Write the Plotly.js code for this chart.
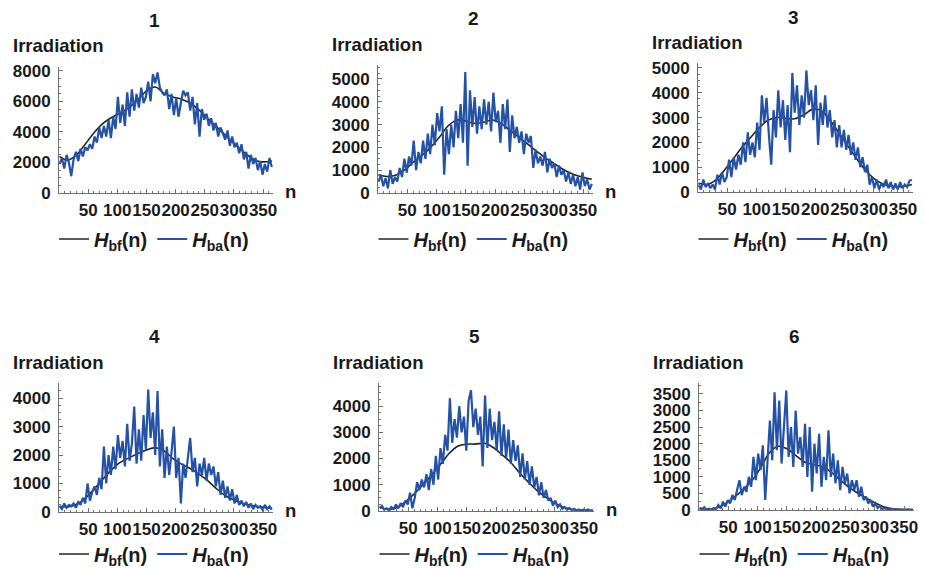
<!DOCTYPE html>
<html><head><meta charset="utf-8">
<script src="https://cdn.plot.ly/plotly-3.0.1.min.js"></script>
<style>html,body{margin:0;padding:0;background:#fff}</style>
</head><body><div id="chart" style="width:925px;height:569px"></div>
<script>
// ---------- data ----------
const titles = ["1","2","3","4","5","6"];
const xTicks = [50,100,150,200,250,300,350];
const yTicks1 = [0,2000,4000,6000,8000];
const yTicks2 = [0,1000,2000,3000,4000,5000];
const yTicks3 = [0,1000,2000,3000,4000,5000];
const yTicks4 = [0,1000,2000,3000,4000];
const yTicks5 = [0,1000,2000,3000,4000];
const yTicks6 = [0,500,1000,1500,2000,2500,3000,3500];

const days = [1,5,9,13,17,21,25,29,33,37,
  41,45,49,53,57,61,65,69,73,77,
  81,85,89,93,97,101,105,109,113,117,
  121,125,129,133,137,141,145,149,153,157,
  161,165,169,173,177,181,185,189,193,197,
  201,205,209,213,217,221,225,229,233,237,
  241,245,249,253,257,261,265,269,273,277,
  281,285,289,293,297,301,305,309,313,317,
  321,325,329,333,337,341,345,349,353,357,
  361,365];
const bfDays = [1,15,30,45,60,75,90,105,120,135,150,165,180,195,210,225,240,255,270,285,300,315,330,345,365];

const bf1 = [2400,2150,2500,3200,3950,4550,4950,5250,5600,6100,6700,6950,6550,6300,6150,5900,5450,4900,4350,3800,3250,2750,2300,2050,2100];
const bf2 = [800,720,780,1000,1350,1650,2000,2450,2950,3200,3150,3050,3100,3200,3050,2750,2450,2150,1850,1550,1300,1050,850,720,600];
const bf3 = [350,300,480,880,1330,1800,2200,2600,2900,3000,2970,2950,3100,3330,3280,2900,2400,1880,1370,900,550,330,230,210,300];
const bf4 = [200,180,270,480,800,1150,1480,1740,1900,2050,2180,2260,2150,1880,1680,1530,1330,1100,820,580,420,300,230,180,130];
const bf5 = [150,60,120,350,650,1000,1380,1780,2200,2480,2550,2550,2580,2420,2150,1850,1450,1100,780,520,300,140,60,30,20];
const bf6 = [60,20,60,190,380,610,880,1270,1720,1920,1850,1650,1450,1370,1310,1150,920,700,520,360,220,100,40,20,10];

const ba1 = [1900,2300,1600,2500,2000,1100,2200,2700,2100,2900,
  2400,3000,2800,3200,2900,3700,3300,4300,3600,4400,
  3700,4800,3600,5000,4200,6300,4600,5800,4400,6600,
  5000,6800,5400,6500,5600,6900,5900,6300,7300,6000,
  7800,7200,7900,6900,6600,6400,6800,5500,6500,5100,
  6200,5000,5900,6700,6400,6600,5400,6300,4500,5900,
  3700,5500,4800,5200,4400,4900,4100,4600,3700,4300,
  3900,3500,4100,3100,3700,3000,3300,2600,3200,2200,
  2700,1600,2500,1900,2300,1500,2100,1200,1900,1400,
  2300,1700];
const ba2 = [500,800,300,650,200,1000,400,700,500,1100,
  700,1500,900,1600,1200,2300,1000,1800,1300,2300,
  1500,2600,1700,3000,2100,3500,2700,3800,800,2800,
  1700,3000,2000,3600,2400,3900,2200,5300,1200,4500,
  2900,4200,2600,3800,2800,4100,3000,4000,2700,4400,
  3100,3600,2200,3900,2800,4100,1800,3400,2400,2900,
  2200,2700,1700,2600,2200,2500,1100,1900,1300,1600,
  1200,1800,900,1500,1100,1300,700,1200,800,1000,
  500,900,400,800,300,700,150,900,300,600,
  150,400];
const ba3 = [300,100,500,200,350,150,300,100,700,300,
  800,400,600,1300,600,1400,900,1500,1100,2000,
  1200,2400,1500,2000,1400,2800,1700,3900,2800,3800,
  2300,1100,3300,2200,4100,2600,3700,2100,3500,1600,
  4800,3200,4300,2700,3900,3000,4900,3500,4100,2900,
  4300,1900,3600,2700,3900,2600,3300,2200,2900,1800,
  2700,1800,2500,1700,2300,1500,2000,1300,1800,1000,
  1400,800,1100,300,600,150,500,100,350,200,
  500,150,400,100,350,100,400,150,300,200,
  450,500];
const ba4 = [200,100,300,150,250,200,300,150,350,250,
  500,300,1000,400,700,900,600,1200,800,2300,
  1000,2000,1300,2300,1500,2700,1900,2500,1600,3100,
  1800,2400,3700,1700,2900,1800,3400,2200,4300,2600,
  3500,2000,4250,1600,2900,1200,2300,1300,2100,3000,
  1200,1900,300,1700,1200,1900,2600,1400,1900,900,
  1700,1300,1900,1100,1700,1300,1600,900,1400,600,
  1100,500,900,400,800,300,600,250,400,200,
  350,150,300,100,250,150,200,80,250,100,
  200,80];
const ba5 = [100,200,50,100,30,150,80,250,100,300,
  150,400,250,700,100,500,1100,800,1200,900,
  1400,800,1600,1000,2100,1200,2400,1800,2900,2300,
  4300,2600,3500,2800,4000,3000,3600,2300,4200,4600,
  3200,3900,2900,3600,1700,4400,2400,3900,2700,3400,
  2300,3800,2100,3300,2000,3100,1800,2700,1900,2500,
  1300,2200,1200,1900,1000,1700,900,1300,600,1100,
  500,800,400,500,200,400,150,250,80,150,
  50,120,30,80,20,60,10,50,20,60,
  10,40];
const ba6 = [50,20,80,10,40,0,60,30,150,50,
  250,100,300,200,450,300,600,900,450,700,
  550,1000,700,1600,900,1700,1200,1950,300,1700,
  2700,1500,3550,1800,3300,1400,2400,3600,1600,2500,
  1300,3000,1700,2200,1300,2600,1000,2500,550,2000,
  1100,2300,700,1600,900,2400,1000,1700,800,1500,
  600,1300,800,1100,500,900,600,900,400,700,
  300,400,200,300,100,200,60,120,30,60,
  10,40,0,30,0,20,0,10,0,15,
  0,10];

const bfName = '<b><i>H</i><sub>bf</sub>(n)</b>';
const baName = '<b><i>H</i><sub>ba</sub>(n)</b>';

// ---------- layout helpers ----------
const W = 925, H = 569;
const FONT = 'Liberation Sans, Arial, sans-serif';
const boxes = [
  {x0:59,  x1:273, yt:67,  yb:193, ymax:8260, minor:500, leg:239},
  {x0:378, x1:593, yt:65,  yb:193, ymax:5610, minor:250, leg:239},
  {x0:698, x1:913, yt:63,  yb:192, ymax:5200, minor:250, leg:239},
  {x0:59,  x1:273, yt:383, yb:512, ymax:4530, minor:250, leg:554},
  {x0:379, x1:594, yt:383, yb:511, ymax:4880, minor:250, leg:554},
  {x0:699, x1:914, yt:383, yb:510, ymax:3830, minor:250, leg:554}
];
const bfs = [bf1,bf2,bf3,bf4,bf5,bf6];
const bas = [ba1,ba2,ba3,ba4,ba5,ba6];
const yTicks = [yTicks1,yTicks2,yTicks3,yTicks4,yTicks5,yTicks6];

const axCol = '#707070';
const tickFont = {family: FONT, size: 17, color: '#1a1a1a', weight: 'bold'};
const traces = [];
const layout = {
  width: W, height: H, margin: {l:0, r:0, t:0, b:0, autoexpand: false},
  paper_bgcolor: '#fff', plot_bgcolor: 'rgba(0,0,0,0)',
  hovermode: false, annotations: [], font: {family: FONT}
};

boxes.forEach((b, i) => {
  const k = i === 0 ? '' : String(i + 1);
  const legKey = 'legend' + k;
  const cx = (b.x0 + b.x1) / 2 - 12;
  traces.push({
    x: bfDays, y: bfs[i], type: 'scatter', mode: 'lines', name: bfName,
    line: {color: '#222222', width: 1.6, shape: 'spline', smoothing: 1},
    xaxis: 'x' + k, yaxis: 'y' + k, legend: legKey
  });
  traces.push({
    x: days, y: bas[i], type: 'scatter', mode: 'lines', name: baName,
    line: {color: '#2552a5', width: 2.2},
    xaxis: 'x' + k, yaxis: 'y' + k, legend: legKey
  });
  layout['xaxis' + k] = {
    domain: [b.x0 / W, b.x1 / W], range: [0, 367], anchor: 'y' + k,
    showline: true, linecolor: axCol, linewidth: 1, zeroline: false, showgrid: false,
    ticks: 'inside', ticklen: 4, tickcolor: axCol, tickwidth: 1,
    tickmode: 'array', tickvals: xTicks, ticktext: xTicks.map(String), tickangle: 0,
    tickfont: tickFont, ticklabelstandoff: 2, fixedrange: true, automargin: false,
    minor: {ticks: 'inside', ticklen: 2, tickcolor: axCol, tickmode: 'linear', tick0: 0, dtick: 10, showgrid: false}
  };
  layout['yaxis' + k] = {
    domain: [1 - b.yb / H, 1 - b.yt / H], range: [0, b.ymax], anchor: 'x' + k,
    showline: true, linecolor: axCol, linewidth: 1, zeroline: false, showgrid: false,
    ticks: 'inside', ticklen: 4, tickcolor: axCol, tickwidth: 1,
    tickmode: 'array', tickvals: yTicks[i], ticktext: yTicks[i].map(String), tickangle: 0,
    tickfont: tickFont, ticklabelstandoff: 4, fixedrange: true, automargin: false,
    minor: {ticks: 'inside', ticklen: 2, tickcolor: axCol, tickmode: 'linear', tick0: 0, dtick: b.minor, showgrid: false}
  };
  layout[legKey] = {
    orientation: 'h', x: cx / W, xanchor: 'center',
    y: 1 - b.leg / H, yanchor: 'middle',
    font: {family: FONT, size: 20, color: '#1a1a1a'},
    itemwidth: 30, bgcolor: 'rgba(0,0,0,0)', traceorder: 'normal'
  };
  layout.annotations.push({
    xref: 'paper', yref: 'paper', x: cx / W, y: 1 - (b.yt - 46) / H,
    text: '<b>' + titles[i] + '</b>', showarrow: false,
    xanchor: 'center', yanchor: 'middle',
    font: {family: FONT, size: 19, color: '#1a1a1a'}
  });
  layout.annotations.push({
    xref: 'paper', yref: 'paper', x: (b.x0 - 48) / W, y: 1 - (b.yt - 21) / H,
    text: '<b>Irradiation</b>', showarrow: false,
    xanchor: 'left', yanchor: 'middle',
    font: {family: FONT, size: 18.5, color: '#1a1a1a'}
  });
  layout.annotations.push({
    xref: 'paper', yref: 'paper', x: (b.x1 + 10) / W, y: 1 - (b.yb - 2) / H,
    text: '<b>n</b>', showarrow: false,
    xanchor: 'left', yanchor: 'middle',
    font: {family: FONT, size: 18.5, color: '#1a1a1a'}
  });
});

Plotly.newPlot('chart', traces, layout, {staticPlot: true, displayModeBar: false});
</script>
</body></html>
